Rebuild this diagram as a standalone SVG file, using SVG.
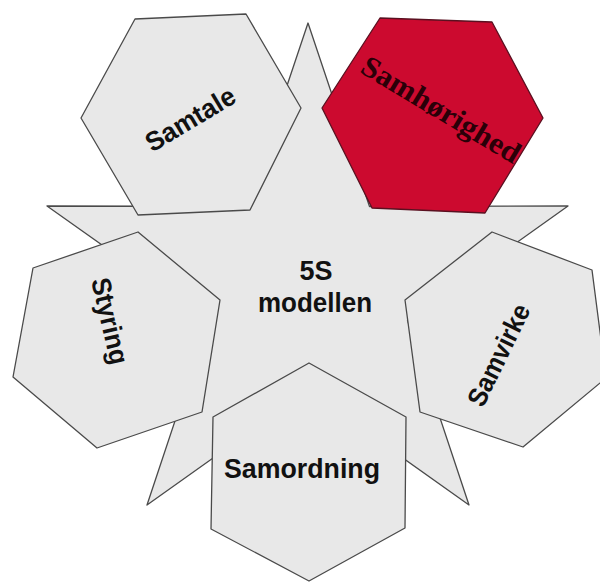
<svg xmlns="http://www.w3.org/2000/svg" width="600" height="583" viewBox="0 0 600 583">
<style>
.shape{fill:#e8e8e8;stroke:#4a4a4a;stroke-width:1.3;stroke-linejoin:round}
.red{fill:#cc0a2f;stroke:#5a1020;stroke-width:1.3;stroke-linejoin:round}
.lbl{font-family:"Liberation Sans",Arial,sans-serif;font-weight:bold;font-size:27px;fill:#111;text-anchor:middle}
.serif{font-family:"Liberation Serif","Times New Roman",serif;font-weight:bold;font-size:30px;fill:#2a0008;text-anchor:middle}
</style>
<rect width="600" height="583" fill="#ffffff"/>
<g id="star">
<polygon class="shape" points="308,23 369.5,206.5 568,206 407.5,320.4 469,505 308,390.6 147,505 208.5,320.4 47,206 246.5,206.5"/>
<text class="lbl" x="316" y="280">5S</text>
<text class="lbl" x="315" y="312" textLength="114" lengthAdjust="spacingAndGlyphs">modellen</text>
</g>
<g id="samtale">
<polygon class="shape" points="135,19 246,14 301,108 250,210 138,215 81,118"/>
<text class="lbl" transform="translate(195,127) rotate(-31)" x="0" y="0" textLength="100" lengthAdjust="spacingAndGlyphs">Samtale</text>
</g>
<g id="samhorighed">
<polygon class="red" points="380,18 492,22 543,118 485,213 372,208 322,108"/>
<text class="serif" transform="translate(436,118) rotate(31)" x="0" y="0" textLength="180" lengthAdjust="spacingAndGlyphs">Samhørighed</text>
</g>
<g id="styring">
<polygon class="shape" points="138,232 220,300 202,412 97,448 13,377 33,268"/>
<text class="lbl" transform="translate(101,323) rotate(77)" x="0" y="0" textLength="88" lengthAdjust="spacingAndGlyphs">Styring</text>
</g>
<g id="samvirke">
<polygon class="shape" points="492,232 592,270 606,378 523,447 420,412 405,300"/>
<text class="lbl" transform="translate(507,359) rotate(-64)" x="0" y="0" textLength="110" lengthAdjust="spacingAndGlyphs">Samvirke</text>
</g>
<g id="samordning">
<polygon class="shape" points="309,363 406,417 405,528 309,581 211,529 213,417"/>
<text class="lbl" x="302" y="478" textLength="156" lengthAdjust="spacingAndGlyphs">Samordning</text>
</g>
<g id="connectors"></g>
</svg>
